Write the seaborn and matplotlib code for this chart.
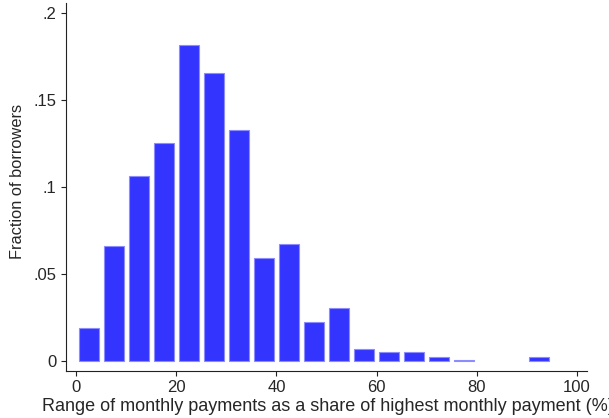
import matplotlib
matplotlib.use("Agg")
import matplotlib.pyplot as plt
import pandas as pd
import seaborn as sns

# bin midpoints (bin width 5) and share of borrowers in each bin
bin_mid = [2.5, 7.5, 12.5, 17.5, 22.5, 27.5, 32.5, 37.5, 42.5, 47.5,
           52.5, 57.5, 62.5, 67.5, 72.5, 77.5, 92.5]
fraction = [0.0194, 0.0665, 0.1067, 0.1257, 0.1820, 0.1659, 0.1328, 0.0596,
            0.0676, 0.0224, 0.0305, 0.0073, 0.0052, 0.0052, 0.0023, 0.0011,
            0.0023]
x_ticks = [0, 20, 40, 60, 80, 100]
y_ticks = [0, 0.05, 0.1, 0.15, 0.2]
y_tick_labels = ["0", ".05", ".1", ".15", ".2"]

sns.set_style("ticks")
plt.rcParams['font.family'] = ['Liberation Sans', 'DejaVu Sans']

data = pd.DataFrame({'mid': bin_mid, 'fraction': fraction})

fig = plt.figure(figsize=(6.09, 4.18), dpi=100)
ax = fig.add_axes([0.1084, 0.1124, 0.8555, 0.8804])

sns.barplot(data=data, x='mid', y='fraction', native_scale=True, width=0.8,
            color='#3434ff', saturation=1, edgecolor='#8c8cff', linewidth=0.8,
            ax=ax)

ax.set_xlim(-2, 102)
ax.set_ylim(-0.0055, 0.2059)
ax.set_xticks(x_ticks)
ax.set_xticklabels([str(t) for t in x_ticks])
ax.set_yticks(y_ticks)
ax.set_yticklabels(y_tick_labels)
ax.tick_params(axis='both', labelsize=12, length=3.8, width=0.8,
               color='#222222')
ax.tick_params(axis='x', pad=2.5)
ax.tick_params(axis='y', pad=3.2)
for side in ['top', 'right']:
    ax.spines[side].set_visible(False)
for side in ['left', 'bottom']:
    ax.spines[side].set_linewidth(0.8)
    ax.spines[side].set_color('#222222')

ax.set_xlabel('Range of monthly payments as a share of highest monthly payment (%)',
              fontsize=13, va='baseline')
ax.set_ylabel('Fraction of borrowers', fontsize=11.8)
ax.xaxis.set_label_coords(0.503, -0.1087)
ax.yaxis.set_label_coords(-0.079, 0.515)

fig.savefig('out.png', dpi=100)
